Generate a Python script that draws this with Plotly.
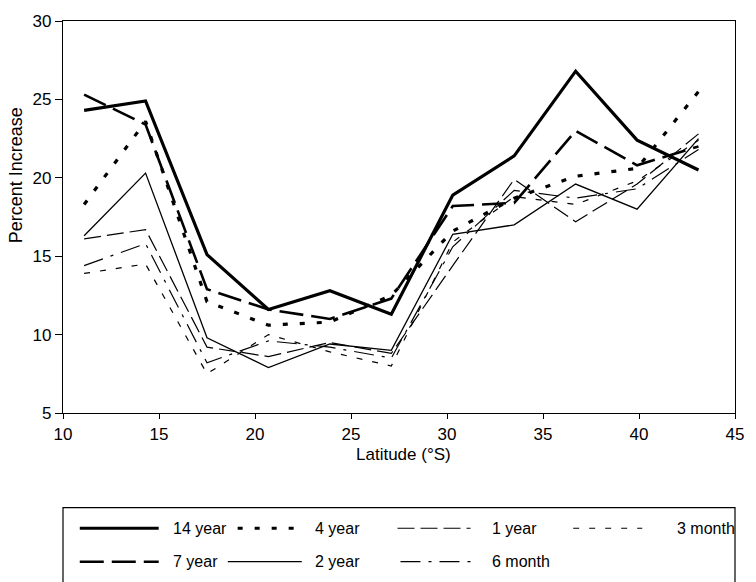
import plotly.graph_objects as go

latitude = [11.1, 14.3, 17.5, 20.7, 23.9, 27.1, 30.3, 33.5, 36.7, 39.9, 43.1]

yr14 = [24.3, 24.9, 15.1, 11.6, 12.8, 11.3, 18.9, 21.4, 26.8, 22.4, 20.5]
yr7 = [25.3, 23.4, 12.9, 11.6, 11.0, 12.3, 18.2, 18.4, 23.0, 20.8, 22.0]
yr4 = [18.3, 23.6, 12.1, 10.6, 10.8, 12.5, 16.6, 18.7, 20.1, 20.6, 25.5]
yr2 = [16.3, 20.3, 9.8, 7.9, 9.4, 9.0, 16.4, 17.0, 19.6, 18.0, 22.5]
yr1 = [16.1, 16.7, 9.2, 8.6, 9.5, 8.8, 14.4, 19.9, 17.2, 19.6, 22.8]
mo6 = [14.4, 15.8, 8.2, 9.6, 9.2, 8.5, 15.6, 19.2, 18.7, 19.3, 21.8]
mo3 = [13.9, 14.5, 7.5, 10.0, 8.9, 8.0, 15.9, 18.8, 18.3, 19.8, 22.4]

series_names = ["14 year", "7 year", "4 year", "2 year", "1 year", "6 month", "3 month"]
series_values = [yr14, yr7, yr4, yr2, yr1, mo6, mo3]
styles = {
    "14 year": dict(width=3.2, dash="solid"),
    "7 year": dict(width=2.6, dash="24px,8px"),
    "4 year": dict(width=3.2, dash="5px,12px"),
    "2 year": dict(width=1.3, dash="solid"),
    "1 year": dict(width=1.2, dash="17px,6px"),
    "6 month": dict(width=1.2, dash="20px,8px,3px,8px"),
    "3 month": dict(width=1.2, dash="6px,10px"),
}

W, H = 756, 582
L, R, T, B = 63, 744, 15, 413

fig = go.Figure()
for name, vals in zip(series_names, series_values):
    fig.add_trace(go.Scatter(x=latitude, y=vals, mode="lines", name=name,
                             line=dict(color="black", **styles[name]),
                             showlegend=False))

font = "Liberation Sans, Arial, Helvetica, sans-serif"

def px(x):
    return (x - L) / (R - L)

def py(y):
    return (B - y) / (B - T)

shapes = []
annotations = []
# legend box
shapes.append(dict(type="rect", xref="paper", yref="paper",
                   x0=px(63), x1=px(744), y0=py(509), y1=py(600),
                   line=dict(color="black", width=1.2), fillcolor="rgba(0,0,0,0)"))
legend_items = [
    ("14 year", 80, 160, 172, 530),
    ("4 year", 240, 305, 316, 530),
    ("1 year", 402, 476, 496, 530),
    ("3 month", 580, 650, 683, 530),
    ("7 year", 80, 160, 172, 564),
    ("2 year", 230, 305, 316, 564),
    ("6 month", 405, 476, 496, 564),
]
for name, x0, x1, tx, yy in legend_items:
    st = styles[name]
    shapes.append(dict(type="line", xref="paper", yref="paper",
                       x0=px(x0), x1=px(x1), y0=py(yy), y1=py(yy),
                       line=dict(color="black", width=st["width"], dash=st["dash"])))
    annotations.append(dict(xref="paper", yref="paper", x=px(tx), y=py(yy),
                            text=name, showarrow=False, xanchor="left", yanchor="middle",
                            font=dict(family=font, size=16, color="black")))

# axis titles
annotations.append(dict(xref="paper", yref="paper", x=px(408), y=py(455),
                        text="Latitude (°S)", showarrow=False, xanchor="center", yanchor="middle",
                        font=dict(family=font, size=17, color="black")))
annotations.append(dict(xref="paper", yref="paper", x=px(15), y=py(172),
                        text="Percent Increase", showarrow=False, textangle=-90,
                        xanchor="center", yanchor="middle",
                        font=dict(family=font, size=18, color="black")))

fig.update_layout(
    width=W, height=H,
    margin=dict(l=L, r=W - R, t=T, b=H - B),
    paper_bgcolor="white", plot_bgcolor="white",
    font=dict(family=font, size=17, color="black"),
    shapes=shapes, annotations=annotations,
)
fig.update_xaxes(range=[10, 45], dtick=5, tick0=10, showgrid=False, zeroline=False,
                 showline=True, linecolor="black", linewidth=1.3, mirror=True,
                 ticks="outside", ticklen=5, tickcolor="black",
                 tickfont=dict(family=font, size=17))
fig.update_yaxes(range=[5, 30], dtick=5, tick0=5, showgrid=False, zeroline=False,
                 showline=True, linecolor="black", linewidth=1.3, mirror=True,
                 ticks="outside", ticklen=7, tickcolor="black",
                 tickfont=dict(family=font, size=17))

fig.write_html("out.html")
